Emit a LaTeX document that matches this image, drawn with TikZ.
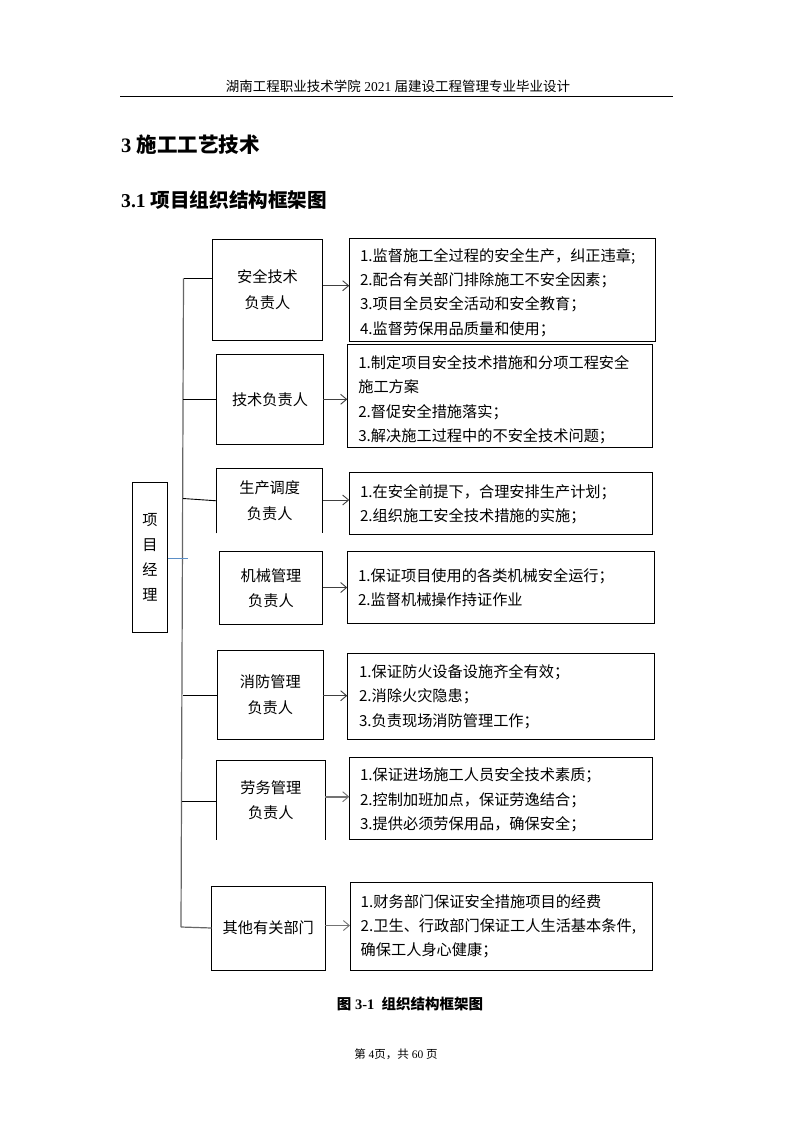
\documentclass[tikz,border=0pt]{standalone}
\usepackage{fontspec}
\setmainfont{Liberation Serif}
\newfontfamily\cjk{Noto Sans CJK SC}
\usetikzlibrary{arrows.meta}
\definecolor{mgrblue}{HTML}{5B8FC7}
\begin{document}
\begin{tikzpicture}[x=1pt,y=-1pt,
  lbox/.style={draw, line width=0.9pt, inner sep=0pt, outer sep=0pt, align=center,
    font=\cjk\fontsize{15.2}{25.5}\selectfont},
  obox/.style={lbox, draw=none},
  rbox/.style={draw, line width=0.9pt, inner sep=0pt, outer sep=0pt},
  rtext/.style={anchor=west, inner sep=0pt, outer sep=0pt, align=left,
    font=\cjk\fontsize{15.2}{24.4}\selectfont},
  link/.style={line width=0.9pt},
  spine/.style={line width=1.2pt, draw=black!60},
  arr/.style={line width=0.9pt, draw=black!75, -{Straight Barb[length=6pt,width=10pt,line width=0.9pt]}},
  arrb/.style={line width=1.8pt, draw=black!55, -{Straight Barb[length=6pt,width=10pt,line width=0.9pt]}},
]
\useasboundingbox (0,0) rectangle (793,1122);
\fill[white] (0,0) rectangle (793,1122);

% header
\node[inner sep=0pt, font=\fontsize{13.5}{16}\selectfont] (hdr) at (398,86.7)
  {{\cjk 湖南工程职业技术学院} 2021 {\cjk 届建设工程管理专业毕业设计}};
\draw[line width=0.8pt] (120,96.7) -- (673,96.7);

% headings
\node[anchor=west, inner sep=0pt, font=\bfseries\fontsize{20.5}{24}\selectfont] (h1) at (121,145)
  {3 {\cjk\bfseries 施工工艺技术}};
\node[anchor=west, inner sep=0pt, font=\bfseries\fontsize{19.6}{24}\selectfont] (h2) at (121,200)
  {3.1 {\cjk\bfseries 项目组织结构框架图}};

% manager
\node[lbox, minimum width=35.4, minimum height=150, font=\cjk\fontsize{15.2}{25}\selectfont] (pm) at (150,557.3)
  {项\\目\\经\\理};

% left boxes
\node[lbox, minimum width=110.4, minimum height=100.7] (b1) at (267.5,289.7) {安全技术\\负责人};
\node[lbox, minimum width=106.6, minimum height=90] (b2) at (270,399.3) {技术负责人};
\node[obox, minimum width=106, minimum height=65] (b3) at (269.7,500.8) {生产调度\\负责人};
\node[lbox, minimum width=103.4, minimum height=72.6] (b4) at (271,588) {机械管理\\负责人};
\node[lbox, minimum width=106, minimum height=88.3] (b5) at (270.3,694.9) {消防管理\\负责人};
\node[obox, minimum width=108.3, minimum height=79.3] (b6) at (270.8,800.3) {劳务管理\\负责人};
\node[lbox, minimum width=113.3, minimum height=84] (b7) at (268.3,928) {其他有关部门};
\draw[link] (b3.south west) -- (b3.north west) -- (b3.north east) -- (b3.south east);
\draw[link] (b6.south west) -- (b6.north west) -- (b6.north east) -- (b6.south east);

% right boxes
\node[rbox, minimum width=305.7, minimum height=102.7] (r1) at (502.15,289.65) {};
\node[rbox, minimum width=305, minimum height=103] (r2) at (499.8,395.8) {};
\node[rbox, minimum width=303, minimum height=61.7] (r3) at (500.8,503.15) {};
\node[rbox, minimum width=307, minimum height=71.6] (r4) at (500.8,587.5) {};
\node[rbox, minimum width=307, minimum height=85.7] (r5) at (500.8,696.15) {};
\node[rbox, minimum width=303, minimum height=81.3] (r6) at (500.8,798.35) {};
\node[rbox, minimum width=302.3, minimum height=87.3] (r7) at (501.15,926.35) {};

\node[rtext] (t1) at (360,292.5) {1.监督施工全过程的安全生产，纠正违章;\\2.配合有关部门排除施工不安全因素；\\3.项目全员安全活动和安全教育；\\4.监督劳保用品质量和使用；};
\node[rtext] (t2) at (358.3,399.7) {1.制定项目安全技术措施和分项工程安全\\施工方案\\2.督促安全措施落实；\\3.解决施工过程中的不安全技术问题；};
\node[rtext] (t3) at (360,504) {1.在安全前提下，合理安排生产计划；\\2.组织施工安全技术措施的实施；};
\node[rtext] (t4) at (358,587.5) {1.保证项目使用的各类机械安全运行；\\2.监督机械操作持证作业};
\node[rtext] (t5) at (359,696.5) {1.保证防火设备设施齐全有效；\\2.消除火灾隐患；\\3.负责现场消防管理工作；};
\node[rtext] (t6) at (360,799.9) {1.保证进场施工人员安全技术素质；\\2.控制加班加点，保证劳逸结合；\\3.提供必须劳保用品，确保安全；};
\node[rtext] (t7) at (360.7,926.2) {1.财务部门保证安全措施项目的经费\\2.卫生、行政部门保证工人生活基本条件,\\确保工人身心健康；};

% spine and connectors
\coordinate (s1) at (183.5,278.3);
\coordinate (s2) at (183.2,399.3);
\coordinate (s3) at (183,498.5);
\coordinate (s5) at (182.5,695);
\coordinate (s6) at (182,801.7);
\coordinate (s7) at (181,927);
\coordinate (sm) at (187.7,558.3);
\draw[spine] (s1) -- (s7);
\draw[link] (s1) -- (s1 -| b1.west);
\draw[link] (s2) -- (s2 -| b2.west);
\draw[link] (s3) -- (b3.west);
\draw[link] (s5) -- (s5 -| b5.west);
\draw[link] (s6) -- (s6 -| b6.west);
\draw[spine] (s7) -- (b7.west);
\draw[line width=0.8pt, draw=mgrblue] (pm.east |- sm) -- (sm);

% arrows
\coordinate (a1) at (0,285.7);
\coordinate (a2) at (0,399.3);
\coordinate (a3) at (0,500);
\coordinate (a4) at (0,587.5);
\coordinate (a5) at (0,695.7);
\coordinate (a6) at (0,796.7);
\coordinate (a7) at (0,925.5);
\draw[arr] (b1.east |- a1) -- (r1.west |- a1);
\draw[arr] (b2.east |- a2) -- (r2.west |- a2);
\draw[arr] (b3.east |- a3) -- (r3.west |- a3);
\draw[arr] (b4.east |- a4) -- (r4.west |- a4);
\draw[arr] (b5.east |- a5) -- (r5.west |- a5);
\draw[arrb] (b6.east |- a6) -- (r6.west |- a6);
\draw[arrb] (b7.east |- a7) -- (r7.west |- a7);

% caption and footer
\node[inner sep=0pt, font=\bfseries\fontsize{14.5}{16}\selectfont] (cap) at (410,1004)
  {{\cjk\bfseries 图} 3-1\ \ {\cjk\bfseries 组织结构框架图}};
\node[inner sep=0pt, font=\fontsize{11.5}{14}\selectfont] (ftr) at (396,1054)
  {{\cjk 第} 4{\cjk 页，共} 60 {\cjk 页}};
\end{tikzpicture}
\end{document}
